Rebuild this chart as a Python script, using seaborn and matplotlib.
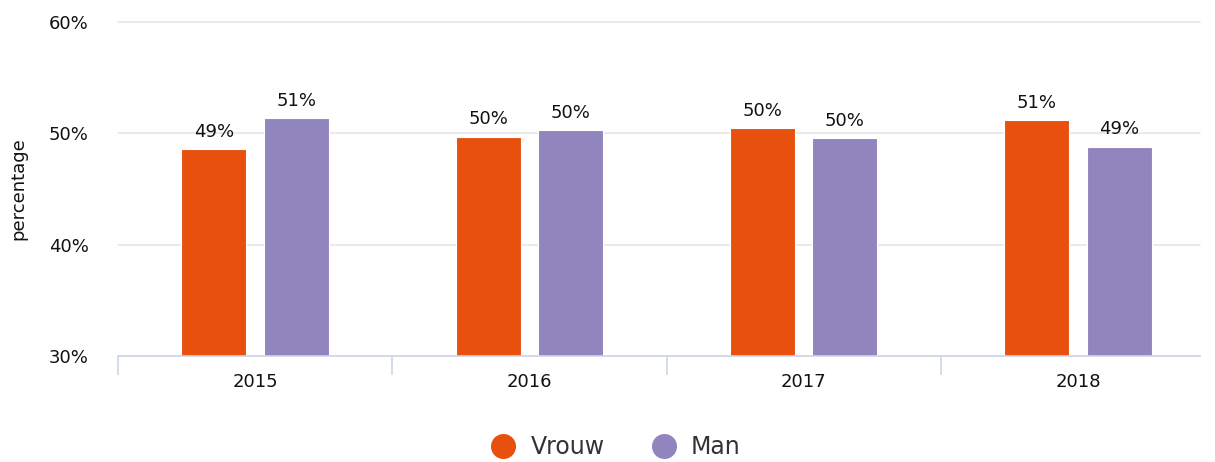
import matplotlib
matplotlib.use("Agg")
import matplotlib.pyplot as plt
from matplotlib.lines import Line2D
import numpy as np
import pandas as pd
import seaborn as sns

# data
years = ["2015", "2016", "2017", "2018"]
vrouw = [48.6, 49.7, 50.45, 51.2]
man = [51.35, 50.3, 49.55, 48.8]
series = ["Vrouw", "Man"]
colours = ["#e8500e", "#9185be"]

df = pd.DataFrame({
    "jaar": years * 2,
    "geslacht": ["Vrouw"] * len(years) + ["Man"] * len(years),
    "percentage": vrouw + man,
})

sns.set_style("white")
plt.rcParams["font.family"] = ["DejaVu Sans"]

fig = plt.figure(figsize=(12.15, 4.62), dpi=100)
ax = fig.add_axes([118 / 1215, 106 / 462, 1082 / 1215, 334 / 462])

sns.barplot(data=df, x="jaar", y="percentage", hue="geslacht", hue_order=series,
            palette=colours, saturation=1, width=0.6, gap=0.21, ax=ax,
            legend=False, edgecolor="white", linewidth=0.8)

# labels above bars
for cont in ax.containers:
    ax.bar_label(cont, labels=[f"{round(v):d}%" for v in cont.datavalues],
                 padding=6, fontsize=13, color="#111111")

ax.set_ylim(30, 60)
ax.set_xlim(-0.5, 3.445)
ax.set_yticks([30, 40, 50, 60])
ax.set_yticklabels(["30%", "40%", "50%", "60%"])
ax.yaxis.grid(True, color="#e6e6e6", linewidth=1.2)
for gl in ax.get_ygridlines():
    gl.set_clip_on(False)
ax.set_axisbelow(True)
ax.tick_params(axis="y", length=0, pad=21, labelsize=13, labelcolor="#111111")
ax.tick_params(axis="x", which="major", length=0, pad=12, labelsize=13,
               labelcolor="#111111")
ax.set_xticks(np.arange(-0.5, 3.5, 1.0), minor=True)
ax.tick_params(axis="x", which="minor", bottom=True, length=14, width=1.2,
               color="#ccd6eb", direction="out")

for side in ["top", "right", "left"]:
    ax.spines[side].set_visible(False)
ax.spines["bottom"].set_color("#ccd6eb")
ax.spines["bottom"].set_linewidth(1.2)

ax.set_xlabel("")
ax.set_ylabel("percentage", fontsize=13, color="#111111")
ax.yaxis.set_label_coords(-0.084, 0.5)

handles = [Line2D([0], [0], marker="o", linestyle="", markersize=17,
                  markerfacecolor=c, markeredgecolor=c) for c in colours]
fig.legend(handles, series, loc="center", bbox_to_anchor=(610 / 1215, 1 - 447 / 462),
           ncol=2, frameon=False, fontsize=17, handletextpad=0.15,
           columnspacing=1.5, labelcolor="#333333")

fig.savefig("out.png", dpi=100)
